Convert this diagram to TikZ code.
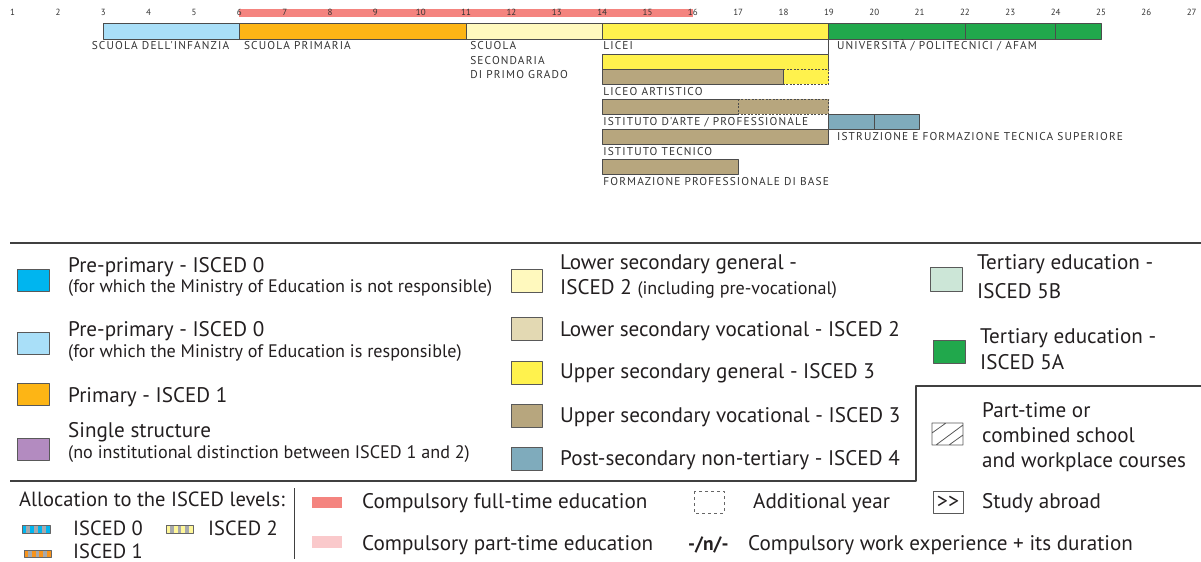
\documentclass[tikz,border=0pt]{standalone}
\usepackage{fontspec}
\setmainfont{PT Sans}
\newfontfamily\capsfont[LetterSpace=10]{PT Sans}
\definecolor{txt}{HTML}{231F20}
\definecolor{cfull}{HTML}{F4847F}
\definecolor{cpart}{HTML}{FAC9CB}
\definecolor{cnotresp}{HTML}{00B5EF}
\definecolor{cinf}{HTML}{A9DFF8}
\definecolor{cprim}{HTML}{FDB515}
\definecolor{csing}{HTML}{B38BC0}
\definecolor{clowgen}{HTML}{FFF9BE}
\definecolor{clowvoc}{HTML}{E3D9B3}
\definecolor{cupgen}{HTML}{FFF24D}
\definecolor{cupvoc}{HTML}{B7A67E}
\definecolor{cpost}{HTML}{7FABBC}
\definecolor{cfiveb}{HTML}{CCE6D7}
\definecolor{cfivea}{HTML}{21A84C}
\definecolor{stripegray}{HTML}{A7A9AC}
\definecolor{cisc1}{HTML}{F7941D}
\definecolor{cisc2}{HTML}{FFF799}

\begin{document}
\begin{tikzpicture}[x=1bp, y=-1bp, line join=round,
		every node/.style={inner sep=0pt, text=txt},
		agenum/.style={font=\fontsize{9}{9}\selectfont, text=black!80},
		bar/.style={draw=black!70, line width=0.9bp},
		addyear/.style={draw=black!70, line width=0.9bp, dash pattern=on 2bp off 1.5bp},
		lbl/.style={anchor=west, font=\capsfont\fontsize{11.4}{12}\selectfont, text=black!80, text height=8bp, text depth=0bp},
		rule/.style={draw=black!75, line width=1.2bp},
		swatch/.style={draw=black!65, line width=0.8bp},
		lg/.style={anchor=base west, font=\fontsize{21.2}{24}\selectfont},
		lgs/.style={anchor=base west, font=\fontsize{18.2}{20}\selectfont},
		lga/.style={anchor=base west, font=\fontsize{20.6}{22}\selectfont}
		]
		\useasboundingbox (0,0) rectangle (1201,562);
		\begin{scope}[xshift=-32.75bp, x=45.35bp]
			\fill[cfull] (6,9.3) rectangle (16,16.7);
			\foreach \a in {1,...,27}
				\node[agenum] (age\a) at (\a,12.7) {\a};
			\draw[bar, fill=cinf] (3,23.3) rectangle (6,39.3);
			\draw[bar, fill=cprim] (6,23.3) rectangle (11,39.3);
			\draw[bar, fill=clowgen] (11,23.3) rectangle (14,39.3);
			\draw[bar, fill=cupgen] (14,23.3) rectangle (19,39.3);
			\draw[bar, fill=cfivea] (19,23.3) rectangle (25,39.3)
				(22,23.3) -- (22,39.3)
				(24,23.3) -- (24,39.3);
			\draw[bar] (19,39.3) -- (19,54.3);
			\draw[bar, fill=cupgen] (14,54.3) rectangle (19,69);
			\draw[bar, fill=cupvoc] (14,69) rectangle (18,84);
			\draw[addyear, fill=cupgen] (18,69) rectangle (19,84);
			\draw[bar, fill=cupvoc] (14,99.3) rectangle (17,114.3);
			\draw[addyear, fill=cupvoc] (17,99.3) rectangle (19,114.3);
			\draw[bar, fill=cpost] (19,114.3) rectangle (20,129.3)
				(20,114.3) rectangle (21,129.3);
			\draw[bar, fill=cupvoc] (14,129.3) rectangle (19,144.3);
			\draw[bar, fill=cupvoc] (14,159.3) rectangle (17,174.3);
			\node[lbl, anchor=east, xshift=-10bp] (infanzia) at (6,46) {SCUOLA DELL'INFANZIA};
			\node[lbl, xshift=4.5bp] (primaria) at (6,46) {SCUOLA PRIMARIA};
			\node[lbl, xshift=4bp] (sec1) at (11,46) {SCUOLA};
			\node[lbl, xshift=4bp] (sec2) at (11,60.5) {SECONDARIA};
			\node[lbl, xshift=4bp] (sec3) at (11,75) {DI PRIMO GRADO};
			\node[lbl, xshift=1bp] (licei) at (14,46) {LICEI};
			\node[lbl, xshift=8bp] (univ) at (19,46) {UNIVERSITÀ / POLITECNICI / AFAM};
			\node[lbl, xshift=1bp] (artistico) at (14,91.7) {LICEO ARTISTICO};
			\node[lbl, xshift=1bp] (arte) at (14,122) {ISTITUTO D'ARTE / PROFESSIONALE};
			\node[lbl, xshift=8bp] (its) at (19,136.7) {ISTRUZIONE E FORMAZIONE TECNICA SUPERIORE};
			\node[lbl, xshift=1bp] (tecnico) at (14,151.7) {ISTITUTO TECNICO};
			\node[lbl, xshift=1bp] (formazione) at (14,181.7) {FORMAZIONE PROFESSIONALE DI BASE};
		\end{scope}
		\draw[rule] (10,243) -- (1201,243);
		\draw[rule] (10,481) -- (916,481) -- (916,386) -- (1201,386);
		\draw[rule] (294.5,488) -- (294.5,559);
		\draw[swatch, fill=cnotresp] (17,269) rectangle (49,291);
		\draw[swatch, fill=cinf] (17,332) rectangle (49,354);
		\draw[swatch, fill=cprim] (17,383) rectangle (49,405);
		\draw[swatch, fill=csing] (17,438) rectangle (49,460);
		\node[lg] (preA) at (68,273) {Pre-primary - ISCED 0};
		\node[lgs] (preAn) at (68,293) {(for which the Ministry of Education is not responsible)};
		\node[lg] (preB) at (68,337) {Pre-primary - ISCED 0};
		\node[lgs] (preBn) at (68,358) {(for which the Ministry of Education is responsible)};
		\node[lg] (prim) at (68,402) {Primary - ISCED 1};
		\node[lg] (single) at (68,437) {Single structure};
		\node[lgs] (singlen) at (68,458) {(no institutional distinction between ISCED 1 and 2)};
		\draw[swatch, fill=clowgen] (511,269) rectangle (542,292);
		\draw[swatch, fill=clowvoc] (511,317) rectangle (542,340);
		\draw[swatch, fill=cupgen] (511,361) rectangle (542,384);
		\draw[swatch, fill=cupvoc] (511,404) rectangle (542,427);
		\draw[swatch, fill=cpost] (511,447) rectangle (542,470);
		\node[lg] (lowgen) at (560,270) {Lower secondary general -};
		\node[lg] (lowgenn) at (560,295) {ISCED 2 {\fontsize{18.2}{20}\selectfont(including pre-vocational)}};
		\node[lg] (lowvoc) at (560,337) {Lower secondary vocational - ISCED 2};
		\node[lg] (upgen) at (560,379) {Upper secondary general - ISCED 3};
		\node[lg] (upvoc) at (560,422) {Upper secondary vocational - ISCED 3};
		\node[lg] (post) at (560,465) {Post-secondary non-tertiary - ISCED 4};
		\draw[swatch, fill=cfiveb] (930,267) rectangle (962,291);
		\draw[swatch, fill=cfivea] (933,340) rectangle (965,363);
		\node[lg] (fiveb) at (977,270) {Tertiary education -};
		\node[lg] (fivebn) at (977,299) {ISCED 5B};
		\node[lg] (fivea) at (980,344) {Tertiary education -};
		\node[lg] (fivean) at (980,370) {ISCED 5A};
		\draw[swatch] (932,423) rectangle (963,445)
			(932,433) -- (946,423)
			(936,445) -- (963,425)
			(949,445) -- (963,435);
		\node[lg] (part1) at (982,417) {Part-time or};
		\node[lg] (part2) at (982,442) {combined school};
		\node[lg] (part3) at (982,467) {and workplace courses};
		\node[lga] (alloc) at (19,506) {Allocation to the ISCED levels:};
		\fill[stripegray] (22,525) rectangle (50,533);
		\foreach \i in {0,2,4,6}
			\fill[cnotresp] (22+4*\i,525) rectangle ++(4,8);
		\draw[draw=black!60, line width=0.5bp] (22,525) rectangle (50,533);
		\fill[stripegray] (24,550) rectangle (51,557);
		\foreach \i in {0,2,4,6}
			\fill[cisc1] (24+3.86*\i,550) rectangle ++(3.86,7);
		\draw[draw=black!60, line width=0.5bp] (24,550) rectangle (51,557);
		\fill[stripegray] (166,525) rectangle (193,533);
		\foreach \i in {0,2,4,6}
			\fill[cisc2] (166+3.86*\i,525) rectangle ++(3.86,8);
		\draw[draw=black!60, line width=0.5bp] (166,525) rectangle (193,533);
		\node[lga] (isc0) at (73,535) {ISCED 0};
		\node[lga] (isc2) at (208,535) {ISCED 2};
		\node[lga] (isc1) at (73,558.5) {ISCED 1};
		\fill[cfull] (312,497) rectangle (342,508);
		\fill[cpart] (312,536) rectangle (342,548);
		\node[lg] (full) at (362,508.5) {Compulsory full-time education};
		\node[lg] (parttime) at (362,550) {Compulsory part-time education};
		\draw[draw=black!60, line width=0.8bp, dash pattern=on 3bp off 3bp] (694,491) rectangle (724,513);
		\node[lg] (addyr) at (753,508.5) {Additional year};
		\draw[swatch] (933,491) rectangle (963,513);
		\node[font=\fontsize{22}{22}\selectfont] (abroadsym) at (948,502) {>\kern0pt>};
		\node[lg] (abroad) at (982,508.5) {Study abroad};
		\node[lg, font=\bfseries\fontsize{19.5}{22}\selectfont] (workn) at (688,550) {-/n/-};
		\node[lg] (work) at (748,550) {Compulsory work experience + its duration};
\end{tikzpicture}
\end{document}
